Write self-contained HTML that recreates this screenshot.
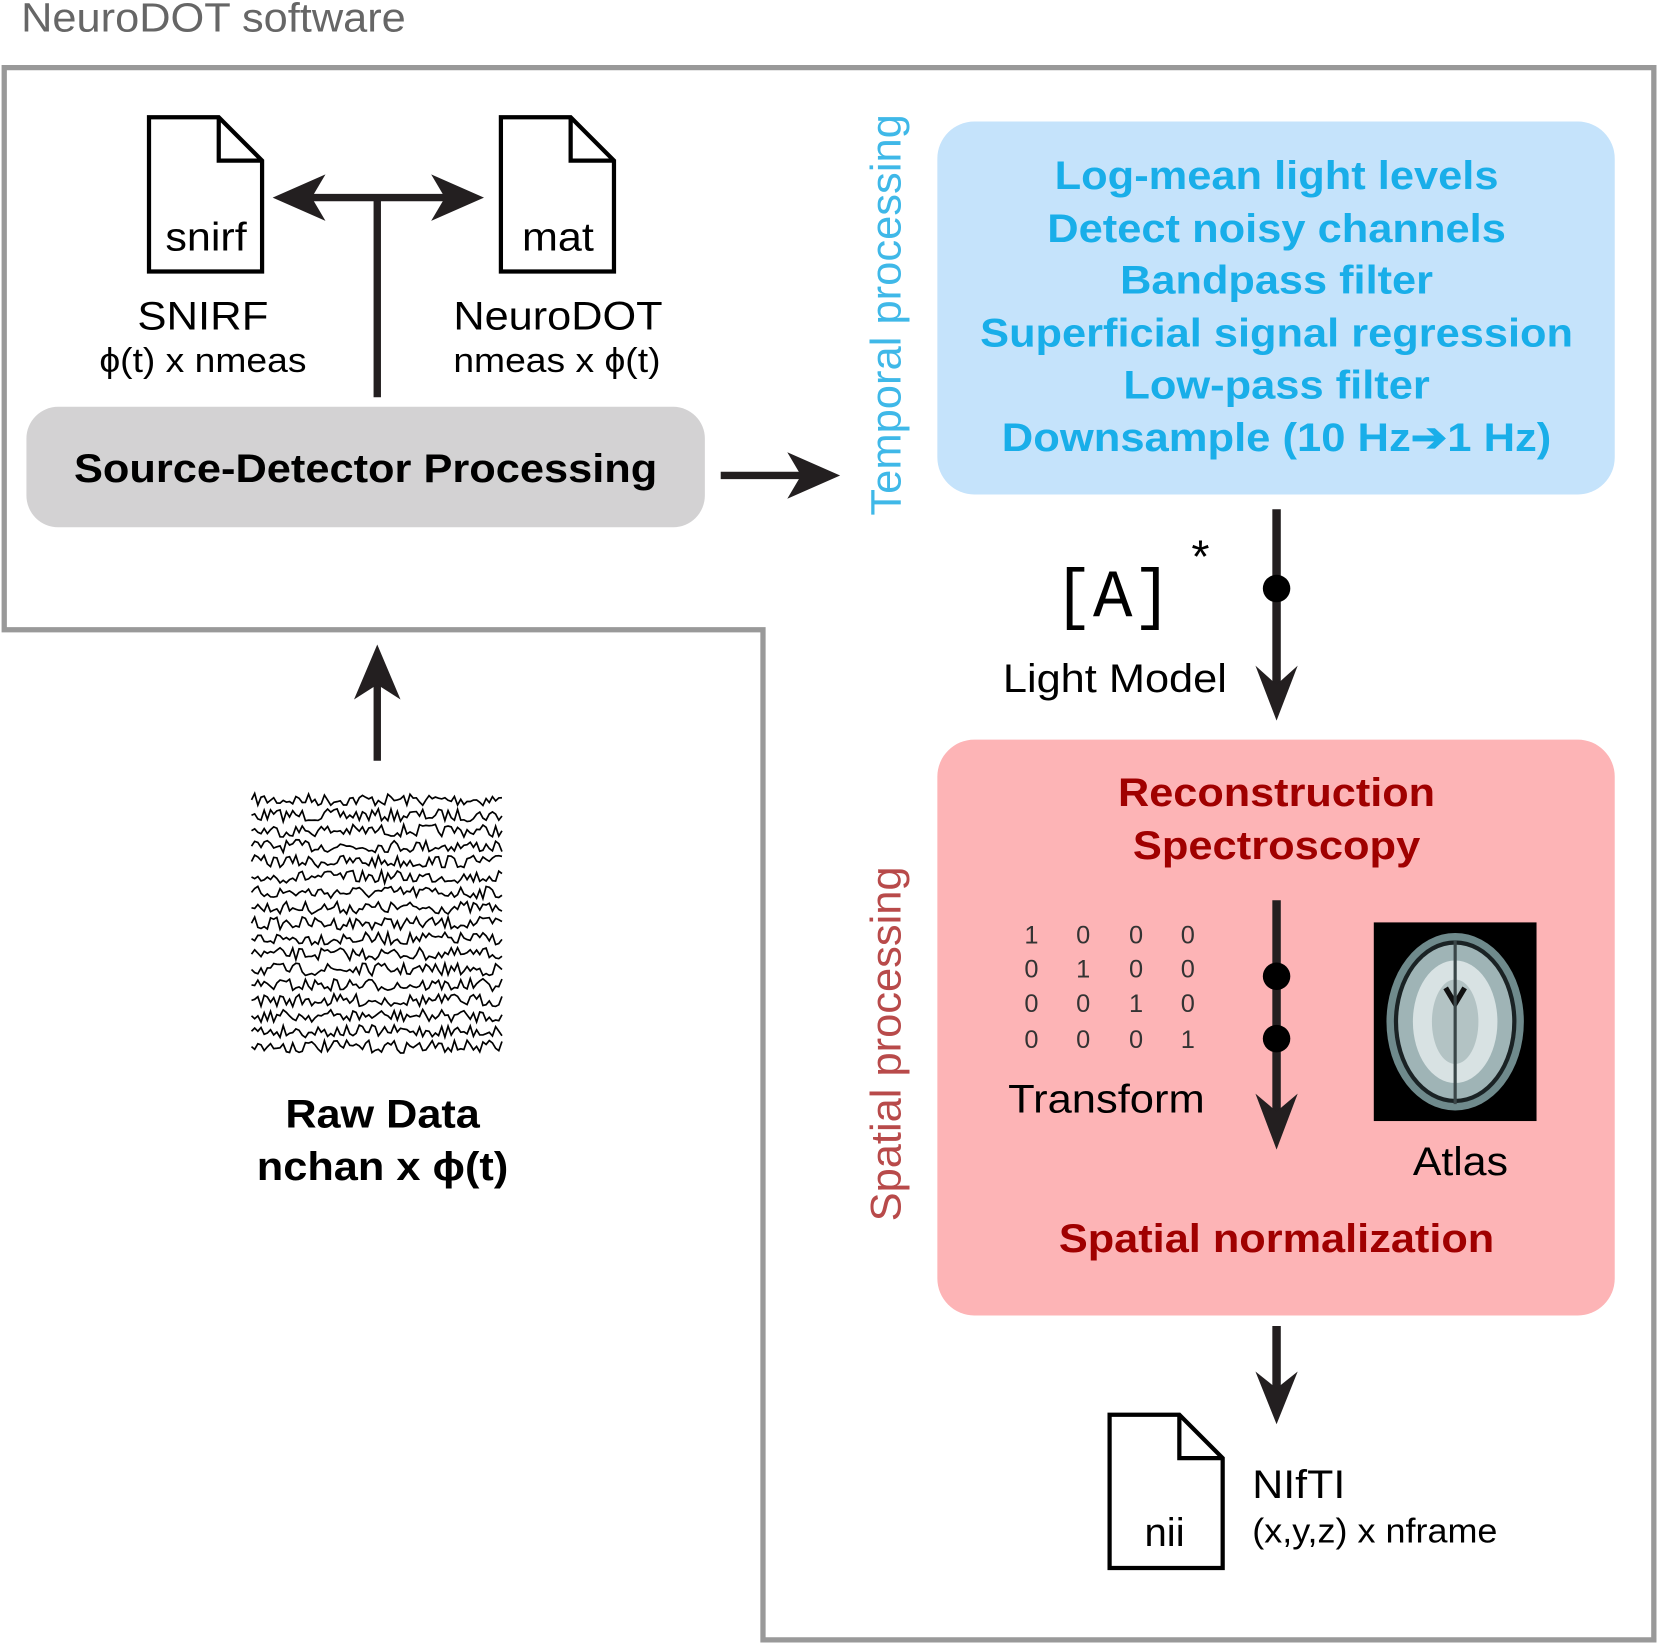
<!DOCTYPE html>
<html><head><meta charset="utf-8"><style>
html,body{margin:0;padding:0;background:#fff}
svg{display:block}
text{font-family:"Liberation Sans",sans-serif}
</style></head><body>
<svg id="s" width="1657" height="1643" viewBox="0 0 1568 1555" preserveAspectRatio="none" xmlns="http://www.w3.org/2000/svg">
<text x="20" y="30" font-size="39" fill="#666" textLength="364" lengthAdjust="spacingAndGlyphs">NeuroDOT software</text>
<polygon points="4,64 1565,64 1565,1552 722,1552 722,596 4,596" fill="none" stroke="#999" stroke-width="5"/>
<rect x="25" y="385" width="642" height="114" rx="30" fill="#d3d2d3"/>
<text x="346" y="456" font-size="38" font-weight="bold" text-anchor="middle" textLength="552" lengthAdjust="spacingAndGlyphs">Source-Detector Processing</text>
<line x1="357" y1="376" x2="357" y2="187" stroke="#231f20" stroke-width="7"/>
<line x1="285" y1="187" x2="430" y2="187" stroke="#231f20" stroke-width="7"/>
<polygon points="258,187 308,165 295,187 308,209" fill="#231f20"/>
<polygon points="458,187 408,165 421,187 408,209" fill="#231f20"/>
<path d="M141,111 H207 L248,152 V257 H141 Z M207,111 V152 H248" fill="#fff" stroke="#000" stroke-width="4"/>
<text x="195" y="237" font-size="38" text-anchor="middle" textLength="77" lengthAdjust="spacingAndGlyphs">snirf</text>
<path d="M474,111 H540 L581,152 V257 H474 Z M540,111 V152 H581" fill="#fff" stroke="#000" stroke-width="4"/>
<text x="528" y="237" font-size="38" text-anchor="middle" textLength="68" lengthAdjust="spacingAndGlyphs">mat</text>
<text x="192" y="312" font-size="38" text-anchor="middle" textLength="124" lengthAdjust="spacingAndGlyphs">SNIRF</text>
<text x="192" y="352" font-size="32" text-anchor="middle" textLength="196" lengthAdjust="spacingAndGlyphs">ϕ(t) x nmeas</text>
<text x="528" y="312" font-size="38" text-anchor="middle" textLength="198" lengthAdjust="spacingAndGlyphs">NeuroDOT</text>
<text x="527" y="352" font-size="32" text-anchor="middle" textLength="196" lengthAdjust="spacingAndGlyphs">nmeas x ϕ(t)</text>
<line x1="682" y1="450" x2="770" y2="450" stroke="#231f20" stroke-width="7"/>
<polygon points="795,450 745,428 758,450 745,472" fill="#231f20"/>
<text transform="translate(852,298) rotate(-90)" font-size="40" fill="#3fb8e8" text-anchor="middle" textLength="380" lengthAdjust="spacingAndGlyphs">Temporal processing</text>
<rect x="887" y="115" width="641" height="353" rx="35" fill="#c5e3fb"/>
<g font-size="38" font-weight="bold" fill="#19aee9" text-anchor="middle">
<text x="1208" y="179" textLength="420" lengthAdjust="spacingAndGlyphs">Log-mean light levels</text>
<text x="1208" y="229" textLength="434" lengthAdjust="spacingAndGlyphs">Detect noisy channels</text>
<text x="1208" y="278" textLength="296" lengthAdjust="spacingAndGlyphs">Bandpass filter</text>
<text x="1208" y="328" textLength="561" lengthAdjust="spacingAndGlyphs">Superficial signal regression</text>
<text x="1208" y="377" textLength="290" lengthAdjust="spacingAndGlyphs">Low-pass filter</text>
<text x="1208" y="427" textLength="520" lengthAdjust="spacingAndGlyphs">Downsample (10 Hz➔1 Hz)</text>
</g>
<line x1="1208" y1="482" x2="1208" y2="650" stroke="#231f20" stroke-width="8"/>
<circle cx="1208" cy="557" r="13" fill="#000"/>
<polygon points="1208,682 1188,630 1208,648 1228,630" fill="#231f20"/>
<text x="1053" y="583" font-size="64" text-anchor="middle" style="font-family:'Liberation Mono',monospace" textLength="112" lengthAdjust="spacingAndGlyphs">[A]</text>
<text x="1136" y="542" font-size="44" text-anchor="middle">*</text>
<text x="1055" y="655" font-size="38" text-anchor="middle" textLength="212" lengthAdjust="spacingAndGlyphs">Light Model</text>
<rect x="887" y="700" width="641" height="545" rx="35" fill="#fdb4b6"/>
<g font-size="38" font-weight="bold" fill="#a00000" text-anchor="middle">
<text x="1208" y="763" textLength="300" lengthAdjust="spacingAndGlyphs">Reconstruction</text>
<text x="1208" y="813" textLength="272" lengthAdjust="spacingAndGlyphs">Spectroscopy</text>
<text x="1208" y="1185" textLength="412" lengthAdjust="spacingAndGlyphs">Spatial normalization</text>
</g>
<text transform="translate(852,988) rotate(-90)" font-size="40" fill="#b84a4a" text-anchor="middle" textLength="336" lengthAdjust="spacingAndGlyphs">Spatial processing</text>
<line x1="1208" y1="852" x2="1208" y2="1055" stroke="#231f20" stroke-width="8"/>
<circle cx="1208" cy="924" r="13" fill="#000"/>
<circle cx="1208" cy="983" r="13" fill="#000"/>
<polygon points="1208,1088 1188,1035 1208,1052 1228,1035" fill="#231f20"/>
<g font-size="24" fill="#333" text-anchor="middle" style="font-family:'Liberation Mono',monospace">
<text x="976" y="893">1</text><text x="1025" y="893">0</text><text x="1075" y="893">0</text><text x="1124" y="893">0</text>
<text x="976" y="925">0</text><text x="1025" y="925">1</text><text x="1075" y="925">0</text><text x="1124" y="925">0</text>
<text x="976" y="958">0</text><text x="1025" y="958">0</text><text x="1075" y="958">1</text><text x="1124" y="958">0</text>
<text x="976" y="992">0</text><text x="1025" y="992">0</text><text x="1075" y="992">0</text><text x="1124" y="992">1</text>
</g>
<text x="1047" y="1053" font-size="38" text-anchor="middle" textLength="186" lengthAdjust="spacingAndGlyphs">Transform</text>
<rect x="1300" y="873" width="154" height="188" fill="#000"/>
<ellipse cx="1377" cy="967" rx="65" ry="84" fill="#6f8a8c"/>
<ellipse cx="1377" cy="967" rx="58" ry="77" fill="#1a2224"/>
<ellipse cx="1377" cy="967" rx="54" ry="73" fill="#9fb4b6"/>
<ellipse cx="1377" cy="967" rx="40" ry="58" fill="#d8e2e3"/>
<ellipse cx="1377" cy="967" rx="22" ry="40" fill="#b3c3c4"/>
<path d="M1368,935 L1377,950 L1386,935" stroke="#111" stroke-width="5" fill="none"/>
<line x1="1377" y1="890" x2="1377" y2="1045" stroke="#3a4648" stroke-width="3"/>
<text x="1382" y="1112" font-size="38" text-anchor="middle" textLength="90" lengthAdjust="spacingAndGlyphs">Atlas</text>
<line x1="1208" y1="1255" x2="1208" y2="1320" stroke="#231f20" stroke-width="8"/>
<polygon points="1208,1348 1188,1298 1208,1314 1228,1298" fill="#231f20"/>
<path d="M1050,1339 H1116 L1157,1380 V1484 H1050 Z M1116,1339 V1380 H1157" fill="#fff" stroke="#000" stroke-width="4"/>
<text x="1102" y="1463" font-size="38" text-anchor="middle">nii</text>
<text x="1185" y="1418" font-size="38" textLength="88" lengthAdjust="spacingAndGlyphs">NIfTI</text>
<text x="1185" y="1460" font-size="32" textLength="232" lengthAdjust="spacingAndGlyphs">(x,y,z) x nframe</text>
<line x1="357" y1="720" x2="357" y2="640" stroke="#231f20" stroke-width="7"/>
<polygon points="357,610 335,662 357,648 379,662" fill="#231f20"/>
<g id="w" fill="none" stroke="#000" stroke-width="1.6"></g>
<text x="362" y="1067" font-size="38" font-weight="bold" text-anchor="middle" textLength="184" lengthAdjust="spacingAndGlyphs">Raw Data</text>
<text x="362" y="1117" font-size="38" font-weight="bold" text-anchor="middle" textLength="238" lengthAdjust="spacingAndGlyphs">nchan x ϕ(t)</text>
</svg>
<script>
var g=document.getElementById('w'),seed=7;function r(){seed=(seed*16807)%2147483647;return seed/2147483647;}
for(var i=0;i<17;i++){var y0=757+i*14.6,d='M238,'+y0.toFixed(1);for(var x=241;x<=477;x+=3){d+=' L'+x+','+(y0+(r()-0.5)*12).toFixed(1);}var p=document.createElementNS('http://www.w3.org/2000/svg','path');p.setAttribute('d',d);g.appendChild(p);}
</script>
</body></html>
